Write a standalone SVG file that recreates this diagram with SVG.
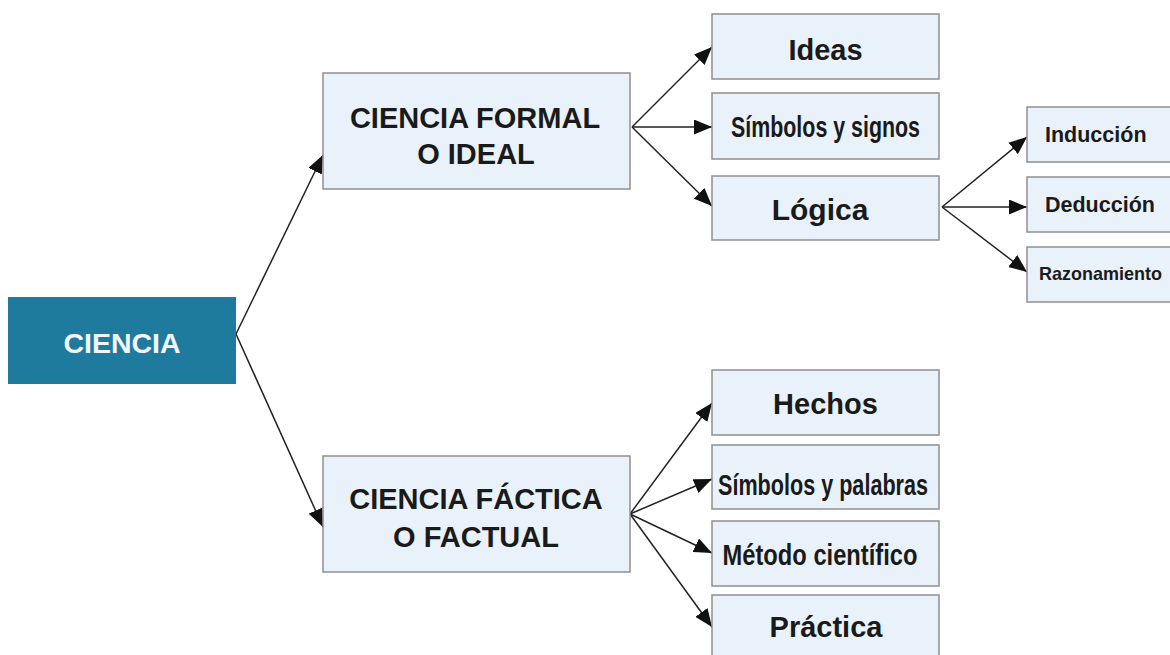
<svg xmlns="http://www.w3.org/2000/svg" width="1170" height="655" viewBox="0 0 1170 655">
<style>
.box{fill:#e9f2fb;stroke:#8f8f8f;stroke-width:1.5}
.t{font-family:"Liberation Sans",Arial,sans-serif;font-weight:bold;fill:#1a1a1a;text-anchor:middle}
.c{stroke:#222;stroke-width:1.5;fill:none;marker-end:url(#ah)}
</style>
<defs>
<marker id="ah" markerUnits="userSpaceOnUse" markerWidth="18" markerHeight="15" refX="18" refY="7.5" orient="auto">
<path d="M0,0 L18,7.5 L0,15 Z" fill="#111"/>
</marker>
</defs>
<rect width="1170" height="655" fill="#fff"/>
<g id="connectors">
<path class="c" d="M236,334 L323,155"/>
<path class="c" d="M236,334 L323,527"/>
<path class="c" d="M632,127 L712,47"/>
<path class="c" d="M632,127 L712,127"/>
<path class="c" d="M632,127 L712,206"/>
<path class="c" d="M942,207 L1027,137"/>
<path class="c" d="M942,207 L1027,207"/>
<path class="c" d="M942,207 L1027,272"/>
<path class="c" d="M630,514 L712,403"/>
<path class="c" d="M630,514 L712,479"/>
<path class="c" d="M630,514 L712,553"/>
<path class="c" d="M630,514 L712,627"/>
</g>
<g id="ciencia">
<rect x="8" y="297" width="228" height="87" fill="#1e7b9e"/>
<text x="122" y="353" class="t" style="fill:#f2f6fa;font-size:28.5px">CIENCIA</text>
</g>
<g id="formal">
<rect class="box" x="323" y="73" width="307" height="116"/>
<text x="475" y="128" class="t" style="font-size:29px">CIENCIA FORMAL</text>
<text x="476" y="164" class="t" style="font-size:29px">O IDEAL</text>
</g>
<g id="factica">
<rect class="box" x="323" y="456" width="307" height="116"/>
<text x="476" y="509" class="t" style="font-size:29px">CIENCIA FÁCTICA</text>
<text x="476" y="547" class="t" style="font-size:29px">O FACTUAL</text>
</g>
<g id="ideas">
<rect class="box" x="712" y="14" width="227" height="65"/>
<text x="825.5" y="60" class="t" style="font-size:29px">Ideas</text>
</g>
<g id="simbolos-signos">
<rect class="box" x="712" y="93" width="227" height="66"/>
<text x="825.5" y="137" class="t" style="font-size:29px" textLength="189" lengthAdjust="spacingAndGlyphs">Símbolos y signos</text>
</g>
<g id="logica">
<rect class="box" x="712" y="176" width="227" height="64"/>
<text x="820" y="220" class="t" style="font-size:30px">Lógica</text>
</g>
<g id="induccion">
<rect class="box" x="1027" y="107" width="160" height="55"/>
<text x="1045" y="142" class="t" style="font-size:21.5px;text-anchor:start">Inducción</text>
</g>
<g id="deduccion">
<rect class="box" x="1027" y="177" width="160" height="55"/>
<text x="1045" y="212" class="t" style="font-size:21.5px;text-anchor:start">Deducción</text>
</g>
<g id="razonamiento">
<rect class="box" x="1027" y="247" width="160" height="55"/>
<text x="1039" y="280" class="t" style="font-size:19px;text-anchor:start" textLength="123" lengthAdjust="spacingAndGlyphs">Razonamiento</text>
</g>
<g id="hechos">
<rect class="box" x="712" y="370" width="227" height="65"/>
<text x="825.5" y="414" class="t" style="font-size:29px">Hechos</text>
</g>
<g id="simbolos-palabras">
<rect class="box" x="712" y="445" width="227" height="64"/>
<text x="823" y="495" class="t" style="font-size:29px" textLength="210" lengthAdjust="spacingAndGlyphs">Símbolos y palabras</text>
</g>
<g id="metodo">
<rect class="box" x="712" y="521" width="227" height="65"/>
<text x="820" y="565" class="t" style="font-size:29px" textLength="195" lengthAdjust="spacingAndGlyphs">Método científico</text>
</g>
<g id="practica">
<rect class="box" x="712" y="595" width="227" height="70"/>
<text x="826" y="637" class="t" style="font-size:29px">Práctica</text>
</g>
</svg>
